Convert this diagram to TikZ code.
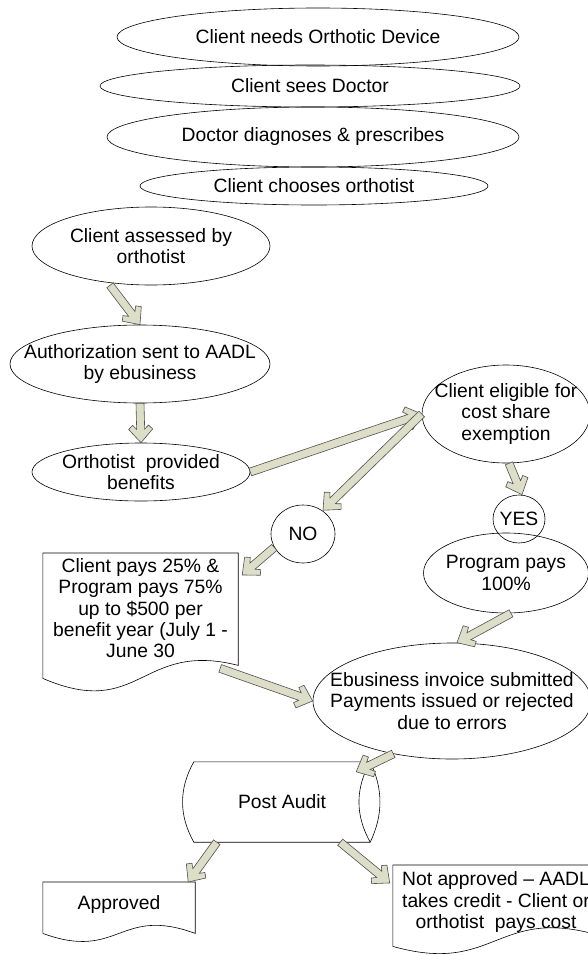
\documentclass[tikz,border=0pt]{standalone}
\usepackage{fontspec}
\setmainfont{Liberation Sans}
\usetikzlibrary{shapes.geometric,calc}

\definecolor{arrowfill}{HTML}{DCDEC8}
\definecolor{arrowline}{HTML}{505050}
\newcommand\flowfont{\fontsize{19.3}{21.3}\selectfont}

\tikzset{
  oval/.style={ellipse, draw, line width=0.6pt, inner sep=-60pt, font=\flowfont, align=center},
  docbox/.style={rectangle, inner sep=0pt, font=\flowfont, align=center},
  docline/.style={draw, line width=0.6pt},
  fatbody/.style={fill=arrowfill, draw=arrowline, line width=0.6pt, line join=miter}
}

% block arrow between two points
\newcommand\fatarrow[2]{%
  \path[fatbody] let \p1=#1, \p2=#2,
    \n1={atan2(\y2-\y1,\x2-\x1)}, \n2={veclen(\x2-\x1,\y2-\y1)} in
    [shift={(\p1)}, rotate=\n1]
    (0pt,4pt) -- ({\n2*1pt-13.5pt},4pt) -- ({\n2*1pt-17.5pt},8pt) -- ({\n2*1pt-13.5pt},12pt)
    -- ({\n2*1pt},0pt)
    -- ({\n2*1pt-13.5pt},-12pt) -- ({\n2*1pt-17.5pt},-8pt) -- ({\n2*1pt-13.5pt},-4pt)
    -- (0pt,-4pt) -- cycle;}

% document outline: node, left end, right end, controls
\newcommand\docedge[5]{%
  \draw[docline] (#1.north west) -- (#1.north east) -- ([yshift=#3]#1.south east)
    .. controls ([yshift=#4]#1.south) and ([yshift=#5]#1.south) .. ([yshift=#2]#1.south west) -- cycle;}

\begin{document}
\begin{tikzpicture}[x=1pt, y=-1pt]
  \useasboundingbox (0,0) rectangle (588,955);
  \clip (0,0) rectangle (588,955);

  % Pasos iniciales
  \node[oval, minimum width=402pt, minimum height=58pt] (need) at (318,37) {Client needs Orthotic Device};
  \node[oval, minimum width=420pt, minimum height=42pt] (doctor) at (310,86) {Client sees Doctor};
  \node[oval, minimum width=412pt, minimum height=60pt] (diag) at (313,137) {Doctor diagnoses \& prescribes};
  \node[oval, minimum width=348pt, minimum height=38pt] (choose) at (314,186) {Client chooses orthotist};

  % Orthotist
  \node[oval, minimum width=238pt, minimum height=78pt] (assess) at (151,246) {Client assessed by\\orthotist};
  \node[oval, minimum width=260pt, minimum height=78pt] (auth) at (140,364) {Authorization sent to AADL\\by ebusiness};
  \node[oval, minimum width=218pt, minimum height=58pt] (provide) at (141,472) {Orthotist~ provided\\benefits};

  % Exemption
  \node[oval, minimum width=168pt, minimum height=98pt] (elig) at (506,414) {Client eligible for\\cost share\\exemption};
  \node[oval, minimum width=64pt, minimum height=58pt] (no) at (303,534) {NO};
  \node[oval, minimum width=52pt, minimum height=48pt] (yes) at (519,519) {YES};
  \node[oval, minimum width=165pt, minimum height=80pt] (prog) at (506,573) {Program pays\\100\%};

  \node[docbox, minimum width=195pt, minimum height=110pt, anchor=north] (pays) at (140.5,553)
    {Client pays 25\% \&\\Program pays 75\%\\up to \$500 per\\benefit year (July 1 -\\June 30};
  \docedge{pays}{-15pt}{-2pt}{23pt}{-57pt}

  % Pago
  \node[oval, minimum width=278pt, minimum height=116pt] (ebus) at (452,701)
    {Ebusiness invoice submitted\\Payments issued or rejected\\due to errors};

  % Post Audit
  \node[docbox, minimum width=176pt, minimum height=80pt] (audit) at (282,802) {Post Audit};
  \draw[docline] (audit.north west) -- (audit.north east)
    .. controls ([xshift=13pt,yshift=-27pt]audit.north east) and ([xshift=13pt,yshift=27pt]audit.south east) .. (audit.south east)
    -- (audit.south west)
    .. controls ([xshift=-15pt,yshift=27pt]audit.south west) and ([xshift=-15pt,yshift=-27pt]audit.north west) .. cycle;
  \draw[docline] (audit.north east)
    .. controls ([xshift=-15pt,yshift=-27pt]audit.north east) and ([xshift=-15pt,yshift=27pt]audit.south east) .. (audit.south east);

  \node[docbox, minimum width=152pt, minimum height=44pt, anchor=north] (appr) at (119,882) {Approved};
  \docedge{appr}{-7pt}{-7pt}{21pt}{-35pt}

  \node[docbox, minimum width=206pt, minimum height=74pt, anchor=north] (nappr) at (496,865)
    {Not approved -- AADL\\takes credit - Client or\\orthotist~ pays cost};
  \docedge{nappr}{-7pt}{4pt}{34pt}{-36pt}

  % Flechas
  \fatarrow{([xshift=-41pt]assess.south)}{(auth.north)}
  \fatarrow{(auth.south)}{(provide.north)}
  \fatarrow{(provide.east)}{(elig.west)}
  \fatarrow{(elig.west)}{(no.50)}
  \fatarrow{([xshift=3pt]elig.south)}{([xshift=3pt]yes.north)}
  \fatarrow{(no.205)}{([xshift=4pt,yshift=-22pt]pays.north east)}
  \fatarrow{([xshift=5pt]prog.south)}{([xshift=5pt]ebus.north)}
  \fatarrow{([xshift=-18pt,yshift=-5pt]pays.south east)}{(ebus.west)}
  \fatarrow{(ebus.222)}{([xshift=-14pt,yshift=-10pt]audit.north east)}
  \fatarrow{([xshift=23pt]audit.south west)}{([xshift=-7pt]appr.north east)}
  \fatarrow{([xshift=-30pt]audit.south east)}{([xshift=-3pt,yshift=-18pt]nappr.north west)}
\end{tikzpicture}
\end{document}
